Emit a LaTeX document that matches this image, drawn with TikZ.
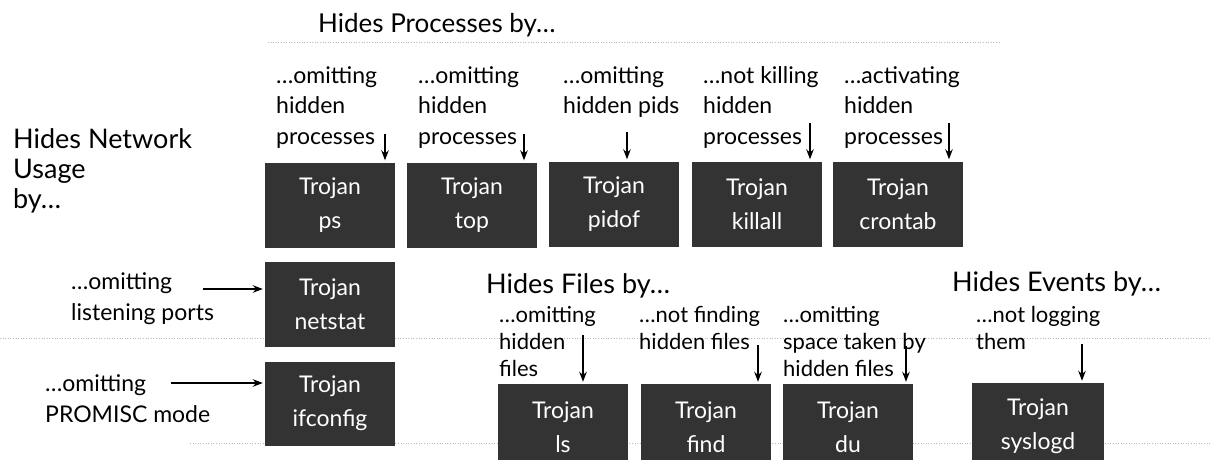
\documentclass[tikz,border=0pt]{standalone}
\usepackage{fontspec}
\setmainfont{Lato}
\usetikzlibrary{arrows.meta}
\begin{document}
\begin{tikzpicture}[x=1pt,y=-1pt,
  trojan/.style={fill=black!80, text=white, minimum width=130pt, minimum height=85pt,
    inner sep=0pt, align=center, font=\fontsize{23}{34}\selectfont},
  lbl/.style={anchor=base west, align=left, inner sep=0pt, font=\fontsize{23}{30.5}\selectfont},
  lblb/.style={anchor=base west, align=left, inner sep=0pt, font=\fontsize{22}{27}\selectfont},
  head/.style={anchor=base west, align=left, inner sep=0pt, font=\fontsize{27}{30}\selectfont},
  arr/.style={-{Stealth[length=10pt,width=7.5pt]}, line width=1.4pt, shorten >=2pt},
  noise/.style={gray!55, dotted, line width=0.6pt}]
\clip (0,0) rectangle (1211,459);
\fill[white] (0,0) rectangle (1211,459);
% scan artefact lines
\draw[noise] (268,42) -- (1000,42);
\draw[noise] (0,338) -- (1211,338);
\draw[noise] (190,443) -- (1211,443);
% titles (anchor = baseline of last line)
\node[head, font=\fontsize{26}{30}\selectfont] (tproc) at (318,32) {Hides Processes by…};
\node[head] (tnet) at (13,208) {Hides Network\\Usage\\by…};
\node[head] (tfiles) at (486,293) {Hides Files by…};
\node[head] (tevents) at (952,291) {Hides Events by…};
% boxes
\node[trojan] (ps) at (330,205) {Trojan\\ps};
\node[trojan] (top) at (472,205) {Trojan\\top};
\node[trojan] (pidof) at (614,204) {Trojan\\pidof};
\node[trojan] (killall) at (757,204) {Trojan\\killall};
\node[trojan] (crontab) at (898,204) {Trojan\\crontab};
\node[trojan] (netstat) at (330,304.5) {Trojan\\netstat};
\node[trojan, minimum height=84pt] (ifconfig) at (330,403.5) {Trojan\\ifconfig};
\node[trojan, minimum height=86pt] (ls) at (563,427) {Trojan\\ls};
\node[trojan, minimum height=86pt] (find) at (706,427) {Trojan\\find};
\node[trojan, minimum height=86pt] (du) at (848,427) {Trojan\\du};
\node[trojan, minimum height=86pt, minimum width=132pt] (syslogd) at (1038,426) {Trojan\\syslogd};
% top labels
\node[lbl] (lps) at (276,144) {…omitting\\hidden\\processes};
\node[lbl] (ltop) at (418,144) {…omitting\\hidden\\processes};
\node[lbl] (lpidof) at (563,113.5) {…omitting\\hidden pids};
\node[lbl] (lkill) at (703,144) {…not killing\\hidden\\processes};
\node[lbl] (lcron) at (844,144) {…activating\\hidden\\processes};
\coordinate (aps) at (385,134);
\coordinate (atop) at (524,134);
\coordinate (apidof) at (627,132);
\coordinate (akill) at (810,123);
\coordinate (acron) at (949,123);
\draw[arr] (aps) -- (aps |- ps.north);
\draw[arr] (atop) -- (atop |- top.north);
\draw[arr] (apidof) -- (apidof |- pidof.north);
\draw[arr] (akill) -- (akill |- killall.north);
\draw[arr] (acron) -- (acron |- crontab.north);
% network labels
\node[lbl] (lnet) at (71,320) {…omitting\\listening ports};
\node[lbl] (lif) at (45,422) {…omitting\\PROMISC mode};
\coordinate (anet) at (203,289);
\coordinate (aif) at (171,383);
\draw[arr] (anet) -- (anet -| netstat.west);
\draw[arr] (aif) -- (aif -| ifconfig.west);
% file / event labels
\node[lblb] (lls) at (499,376) {…omitting\\hidden\\files};
\node[lblb] (lfind) at (639,349) {…not finding\\hidden files};
\node[lblb] (ldu) at (783,376) {…omitting\\space taken by\\hidden files};
\node[lblb] (lsys) at (976,349) {…not logging\\them};
\coordinate (als) at (583,335);
\coordinate (afind) at (758,345);
\coordinate (adu) at (906,346);
\coordinate (asys) at (1082,344);
\draw[arr] (als) -- (als |- ls.north);
\draw[arr] (afind) -- (afind |- find.north);
\draw[arr] (adu) -- (adu |- du.north);
\draw[arr] (asys) -- (asys |- syslogd.north);
\end{tikzpicture}
\end{document}
